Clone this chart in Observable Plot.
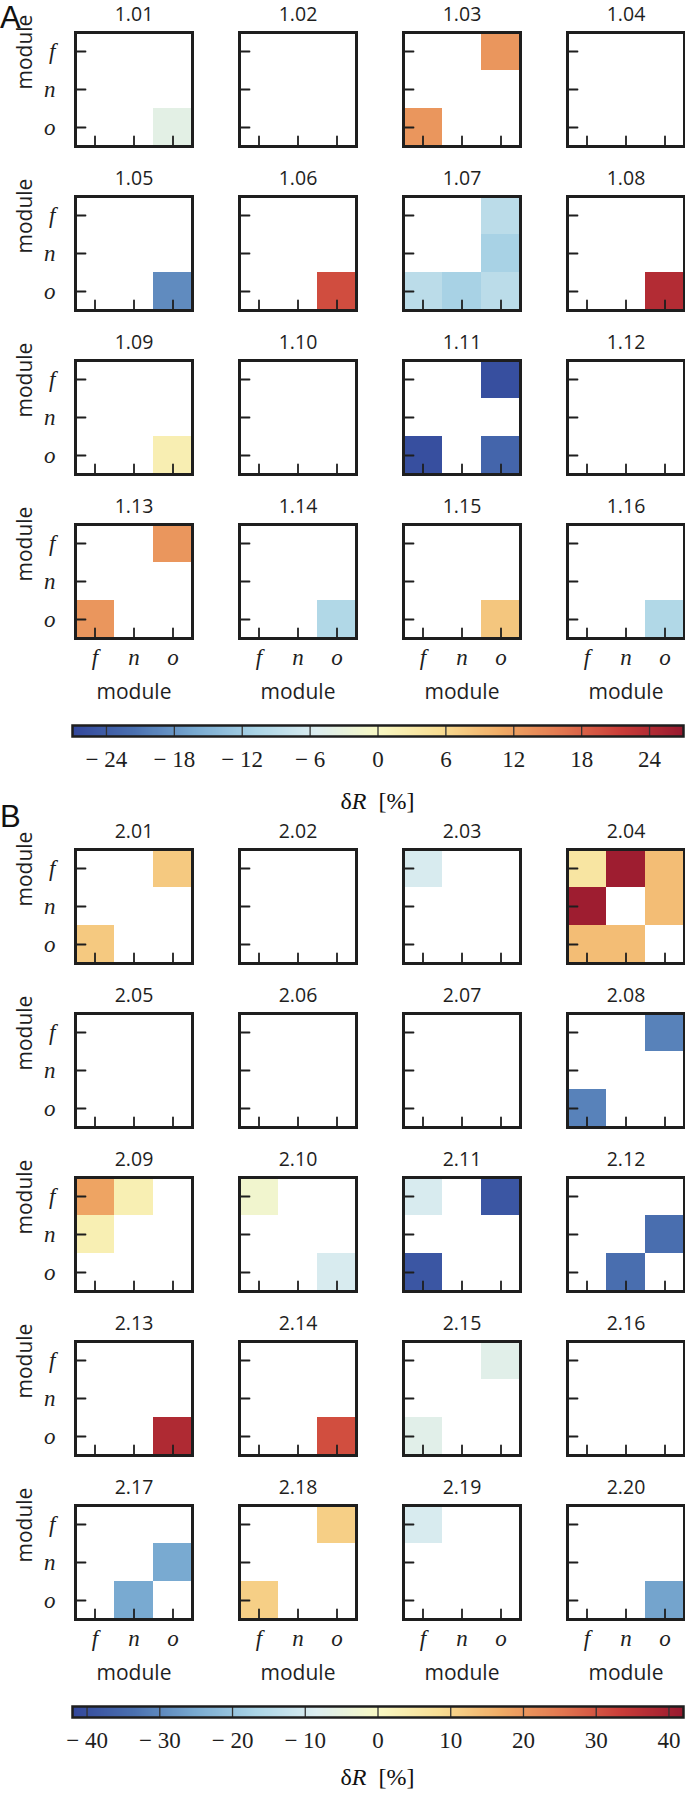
<!DOCTYPE html>
<html>
<head>
<meta charset="utf-8">
<script src="https://cdn.jsdelivr.net/npm/d3@7"></script>
<script src="https://cdn.jsdelivr.net/npm/@observablehq/plot@0.6"></script>
<style>
  body { margin: 0; background: #fff; }
  #root { position: relative; width: 685px; height: 1794px; }
  .block { position: relative; width: 685px; }
  .block svg { display: block; }
  .letter { position: absolute; left: 0px; font-family: "Liberation Sans", sans-serif; font-size: 31px; line-height: normal; color: #111; }
  .cbl { position: absolute; left: 72px; width: 611px; text-align: center; font-family: "Liberation Serif", serif; font-size: 24px; line-height: 1; color: #111; }
</style>
</head>
<body>
<div id="root"></div>
<script>
// ---------- data ----------
const modules = ["f", "n", "o"];

const panelsA = ["1.01","1.02","1.03","1.04","1.05","1.06","1.07","1.08",
                 "1.09","1.10","1.11","1.12","1.13","1.14","1.15","1.16"];
const panelsB = ["2.01","2.02","2.03","2.04","2.05","2.06","2.07","2.08","2.09","2.10",
                 "2.11","2.12","2.13","2.14","2.15","2.16","2.17","2.18","2.19","2.20"];

// [panel, x module, y module, δR %]
const cellsA = [
  ["1.01","o","o",-4],
  ["1.03","o","f",13], ["1.03","f","o",13],
  ["1.05","o","o",-19],
  ["1.06","o","o",20],
  ["1.07","o","f",-9], ["1.07","o","n",-11], ["1.07","f","o",-9], ["1.07","n","o",-11], ["1.07","o","o",-9],
  ["1.08","o","o",24],
  ["1.09","o","o",2],
  ["1.11","o","f",-26], ["1.11","f","o",-26], ["1.11","o","o",-23],
  ["1.13","o","f",13], ["1.13","f","o",13],
  ["1.14","o","o",-10],
  ["1.15","o","o",8],
  ["1.16","o","o",-10]
];
const cellsB = [
  ["2.01","o","f",12], ["2.01","f","o",12],
  ["2.03","f","f",-9],
  ["2.04","f","f",6], ["2.04","n","f",41], ["2.04","o","f",14], ["2.04","f","n",41],
  ["2.04","o","n",14], ["2.04","f","o",14], ["2.04","n","o",14],
  ["2.08","o","f",-31], ["2.08","f","o",-31],
  ["2.09","f","f",18], ["2.09","n","f",3], ["2.09","f","n",3],
  ["2.10","f","f",-2], ["2.10","o","o",-9],
  ["2.11","f","f",-9], ["2.11","o","f",-39], ["2.11","f","o",-39],
  ["2.12","o","n",-34], ["2.12","n","o",-34],
  ["2.13","o","o",38],
  ["2.14","o","o",31],
  ["2.15","o","f",-7], ["2.15","f","o",-7],
  ["2.17","o","n",-25], ["2.17","n","o",-25],
  ["2.18","o","f",11], ["2.18","f","o",11],
  ["2.19","f","f",-9],
  ["2.20","o","o",-26]
];

const extentA = 27;
const extentB = 42;
const ticksA = [-24, -18, -12, -6, 0, 6, 12, 18, 24];
const ticksB = [-40, -30, -20, -10, 0, 10, 20, 30, 40];

// RdYlBu-like diverging ramp (blue → red), slightly muted as in the print
const schemeColors = ["#33479b","#4a70b0","#78a9d0","#aad4e6","#dcedf0","#f8f8c4",
                      "#f8de94","#f0ac66","#e27750","#c93c38","#98192f"];
const ramp = d3.piecewise(d3.interpolateRgb, schemeColors);

// ---------- drawing ----------
const SANS = "'Open Sans', sans-serif";
const SERIF = "'Liberation Serif', serif";
const INK = "#1e1e1e";

function heatmap(panels, cells, extent, marginTop, marginBottom) {
  const rows = Math.ceil(panels.length / 4);
  const pos = (p) => { const i = panels.indexOf(p); return {col: i % 4, row: Math.floor(i / 4)}; };
  const cellData = cells.map(([p, x, y, v]) => ({p, x, y, v, ...pos(p)}));
  const panelData = panels.map((p) => ({p, ...pos(p)}));
  const leftData = panelData.filter((d) => d.col === 0);
  const bottomData = panelData.filter((d) => d.row === rows - 1);
  const tickRight = {draw(ctx, l) { ctx.moveTo(0, 0); ctx.lineTo(l, 0); }};
  const tickUp = {draw(ctx, l) { ctx.moveTo(0, 0); ctx.lineTo(0, -l); }};
  const boxH = 114, gapH = 50;
  const height = marginTop + rows * boxH + (rows - 1) * gapH + marginBottom;
  return Plot.plot({
    width: 685,
    height,
    marginLeft: 75,
    marginRight: 1,
    marginTop,
    marginBottom,
    style: {fontFamily: SANS, color: INK, background: "white"},
    fx: {domain: [0, 1, 2, 3], paddingInner: 47 / 164, paddingOuter: 0, axis: null},
    fy: {domain: d3.range(rows), paddingInner: gapH / (boxH + gapH), paddingOuter: 0, axis: null},
    x: {domain: modules, padding: 0, axis: null},
    y: {domain: modules, padding: 0, axis: null},
    color: {type: "linear", domain: [-extent, extent], interpolate: ramp},
    marks: [
      Plot.cell(cellData, {fx: "col", fy: "row", x: "x", y: "y", fill: "v", inset: 0, shapeRendering: "crispEdges"}),
      Plot.vector(modules, {y: (d) => d, frameAnchor: "left", length: 10, anchor: "start", shape: tickRight, stroke: INK, strokeWidth: 1.8}),
      Plot.vector(modules, {x: (d) => d, frameAnchor: "bottom", length: 10, anchor: "start", shape: tickUp, stroke: INK, strokeWidth: 1.8}),
      Plot.frame({stroke: INK, strokeWidth: 3}),
      Plot.text(panelData, {fx: "col", fy: "row", text: "p", frameAnchor: "top", dy: -18, lineAnchor: "middle", fontSize: 19.5, fontFamily: SANS, fill: INK}),
      Plot.text(leftData, {fx: "col", fy: "row", text: () => "module", frameAnchor: "left", rotate: -90, dx: -50, fontSize: 21, fontFamily: SANS, fill: INK}),
      Plot.text(bottomData, {fx: "col", fy: "row", text: () => "module", frameAnchor: "bottom", dy: 54, lineAnchor: "middle", fontSize: 21, fontFamily: SANS, fill: INK}),
      Plot.axisY({anchor: "left", tickSize: 0, tickPadding: 20, label: null, fontFamily: SERIF, fontStyle: "italic", fontSize: 23, fill: INK}),
      Plot.axisX({anchor: "bottom", tickSize: 0, tickPadding: 10, label: null, fontFamily: SERIF, fontStyle: "italic", fontSize: 23, fill: INK})
    ]
  });
}

function colorbar(extent, ticks, height, marginTop) {
  const fmt = (d) => d < 0 ? "\u2212 " + Math.abs(d) : String(d);
  return Plot.plot({
    width: 685,
    height,
    marginLeft: 72,
    marginRight: 2,
    marginTop,
    marginBottom: height - marginTop - 11,
    style: {fontFamily: SERIF, color: INK, background: "white"},
    x: {domain: [-extent, extent], axis: null},
    y: {domain: [0, 1], axis: null},
    color: {type: "linear", domain: [-extent, extent], interpolate: ramp},
    marks: [
      Plot.raster({x1: -extent, x2: extent, y1: 0, y2: 1, width: 600, height: 1, fill: (x, y) => x, imageRendering: "auto"}),
      Plot.ruleX(ticks, {stroke: "#333", strokeWidth: 1.3}),
      Plot.frame({stroke: INK, strokeWidth: 2.5}),
      Plot.axisX(ticks, {anchor: "bottom", tickSize: 0, tickPadding: 14, tickFormat: fmt, label: null, fontFamily: SERIF, fontSize: 23, fill: INK})
    ]
  });
}

const root = document.getElementById("root");
function block(h) {
  const div = document.createElement("div");
  div.className = "block";
  div.style.height = h + "px";
  root.appendChild(div);
  return div;
}
function addLabel(cls, top, html) {
  const d = document.createElement("div");
  d.className = cls;
  d.style.top = top + "px";
  d.innerHTML = html;
  root.appendChild(d);
}

// Section A  (page y 0–710)
block(710).appendChild(heatmap(panelsA, cellsA, extentA, 32, 72));
// Colorbar A (page y 710–810)
block(100).appendChild(colorbar(extentA, ticksA, 100, 15));
// Section B (page y 810–1690)
block(880).appendChild(heatmap(panelsB, cellsB, extentB, 39, 71));
// Colorbar B (page y 1690–1794)
block(104).appendChild(colorbar(extentB, ticksB, 104, 16));

// panel letters and colorbar labels (page coordinates)
addLabel("letter", 0, "A");
addLabel("letter", 799, "B");
addLabel("cbl", 789, "δ<i>R</i>&nbsp; [%]");
addLabel("cbl", 1765, "δ<i>R</i>&nbsp; [%]");
</script>
</body>
</html>
